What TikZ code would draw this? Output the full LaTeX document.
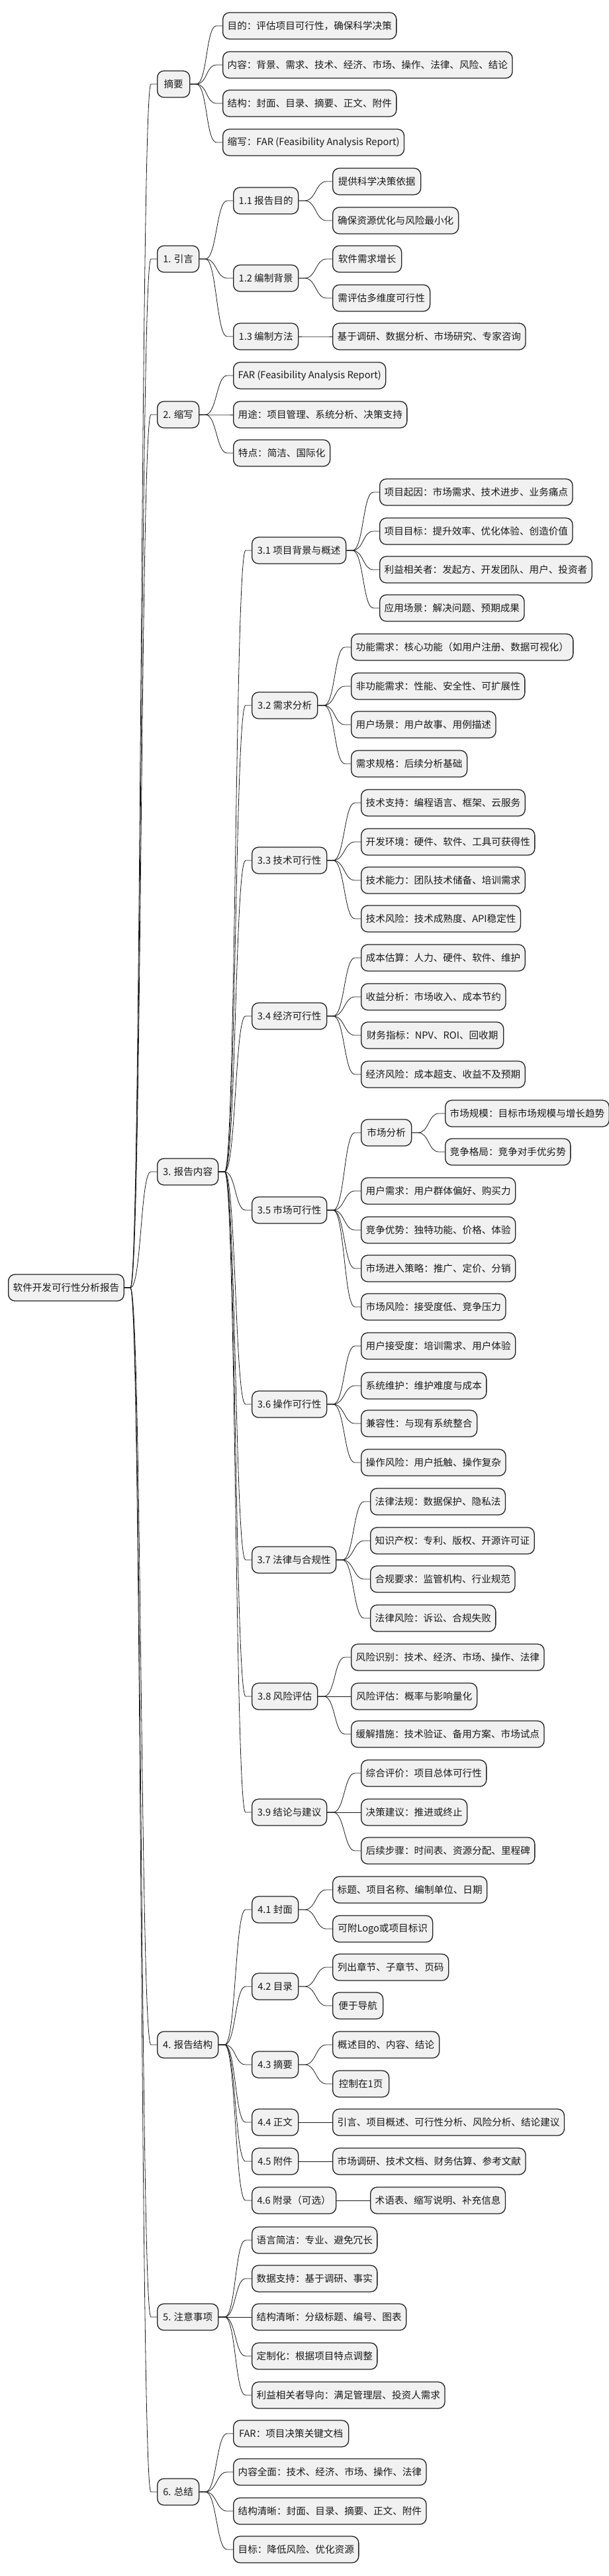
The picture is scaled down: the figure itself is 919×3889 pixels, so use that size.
\documentclass[tikz,border=0pt]{standalone}
\usepackage{fontspec}
\setmainfont{Noto Sans CJK SC}
\usetikzlibrary{backgrounds}
\definecolor{boxfill}{HTML}{F1F1F1}
\definecolor{boxline}{HTML}{222222}
\definecolor{edgeline}{HTML}{1A1A1A}
\tikzset{
  box/.style={draw=boxline, line width=1.3pt, fill=boxfill, rounded corners=10pt,
    minimum height=40pt, inner xsep=7pt, inner ysep=2pt, anchor=west,
    font=\fontsize{14.6pt}{16pt}\selectfont, text=black!90},
  edge/.style={draw=edgeline, line width=0.8pt}
}
\newcommand\nd[5]{\node[box,minimum width=#4pt] (#1) at (#2,#3) {#5};}
\newcommand\lk[2]{\draw[edge] (#1.east) -- ([xshift=9pt]#1.east) .. controls ([xshift=26pt]#1.east) and ([xshift=-25pt]#2.west) .. ([xshift=-9pt]#2.west) -- (#2.west);}
\begin{document}
\begin{tikzpicture}[x=1pt,y=-1pt]
\useasboundingbox (0,0) rectangle (919,3889);
% root
\nd{r}{12}{1944}{174}{软件开发可行性分析报告}
% level 1
\nd{a}{237}{127}{49}{摘要}
\nd{b}{237}{391}{63}{1. 引言}
\nd{c}{237}{626}{63}{2. 缩写}
\nd{d}{237}{1769}{92}{3. 报告内容}
\nd{e}{237}{3087}{92}{4. 报告结构}
\nd{f}{237}{3498}{92}{5. 注意事项}
\nd{g}{237}{3762}{63}{6. 总结}
% 摘要
\nd{a1}{336}{39}{261}{目的：评估项目可行性，确保科学决策}
\nd{a2}{336}{98}{430}{内容：背景、需求、技术、经济、市场、操作、法律、风险、结论}
\nd{a3}{336}{156}{261}{结构：封面、目录、摘要、正文、附件}
\nd{a4}{336}{215}{270}{缩写：FAR (Feasibility Analysis Report)}
% 引言
\nd{b1}{352}{303}{98}{1.1 报告目的}
\nd{b2}{352}{420}{98}{1.2 编制背景}
\nd{b3}{352}{508}{98}{1.3 编制方法}
\nd{b11}{502}{274}{133}{提供科学决策依据}
\nd{b12}{502}{333}{190}{确保资源优化与风险最小化}
\nd{b21}{502}{391}{104}{软件需求增长}
\nd{b22}{502}{450}{147}{需评估多维度可行性}
\nd{b31}{502}{508}{289}{基于调研、数据分析、市场研究、专家咨询}
% 缩写
\nd{c1}{352}{567}{227}{FAR (Feasibility Analysis Report)}
\nd{c2}{352}{626}{260}{用途：项目管理、系统分析、决策支持}
\nd{c3}{352}{684}{146}{特点：简洁、国际化}
% 报告内容
\nd{d1}{380}{831}{142}{3.1 项目背景与概述}
\nd{d2}{380}{1065}{99}{3.2 需求分析}
\nd{d3}{380}{1299}{113}{3.3 技术可行性}
\nd{d4}{380}{1534}{113}{3.4 经济可行性}
\nd{d5}{380}{1827}{113}{3.5 市场可行性}
\nd{d6}{380}{2120}{113}{3.6 操作可行性}
\nd{d7}{380}{2355}{127}{3.7 法律与合规性}
\nd{d8}{380}{2561}{99}{3.8 风险评估}
\nd{d9}{380}{2736}{113}{3.9 结论与建议}
\nd{d11}{573}{743}{288}{项目起因：市场需求、技术进步、业务痛点}
\nd{d12}{573}{802}{288}{项目目标：提升效率、优化体验、创造价值}
\nd{d13}{573}{860}{316}{利益相关者：发起方、开发团队、用户、投资者}
\nd{d14}{573}{918}{217}{应用场景：解决问题、预期成果}
\nd{d21}{530}{977}{331}{功能需求：核心功能（如用户注册、数据可视化）}
\nd{d22}{530}{1036}{260}{非功能需求：性能、安全性、可扩展性}
\nd{d23}{530}{1094}{218}{用户场景：用户故事、用例描述}
\nd{d24}{530}{1153}{175}{需求规格：后续分析基础}
\nd{d31}{545}{1212}{245}{技术支持：编程语言、框架、云服务}
\nd{d32}{545}{1271}{259}{开发环境：硬件、软件、工具可获得性}
\nd{d33}{545}{1329}{245}{技术能力：团队技术储备、培训需求}
\nd{d34}{545}{1387}{240}{技术风险：技术成熟度、API稳定性}
\nd{d41}{545}{1446}{245}{成本估算：人力、硬件、软件、维护}
\nd{d42}{545}{1505}{217}{收益分析：市场收入、成本节约}
\nd{d43}{545}{1563}{215}{财务指标：NPV、ROI、回收期}
\nd{d44}{545}{1622}{245}{经济风险：成本超支、收益不及预期}
\nd{d51}{545}{1710}{76}{市场分析}
\nd{d511}{672}{1681}{247}{市场规模：目标市场规模与增长趋势}
\nd{d512}{672}{1739}{189}{竞争格局：竞争对手优劣势}
\nd{d52}{545}{1798}{231}{用户需求：用户群体偏好、购买力}
\nd{d53}{545}{1857}{231}{竞争优势：独特功能、价格、体验}
\nd{d54}{545}{1915}{231}{市场进入策略：推广、定价、分销}
\nd{d55}{545}{1973}{217}{市场风险：接受度低、竞争压力}
\nd{d61}{545}{2032}{231}{用户接受度：培训需求、用户体验}
\nd{d62}{545}{2092}{189}{系统维护：维护难度与成本}
\nd{d63}{545}{2149}{175}{兼容性：与现有系统整合}
\nd{d64}{545}{2208}{217}{操作风险：用户抵触、操作复杂}
\nd{d71}{559}{2267}{203}{法律法规：数据保护、隐私法}
\nd{d72}{559}{2326}{245}{知识产权：专利、版权、开源许可证}
\nd{d73}{559}{2384}{217}{合规要求：监管机构、行业规范}
\nd{d74}{559}{2443}{189}{法律风险：诉讼、合规失败}
\nd{d81}{530}{2502}{289}{风险识别：技术、经济、市场、操作、法律}
\nd{d82}{530}{2561}{190}{风险评估：概率与影响量化}
\nd{d83}{530}{2618}{289}{缓解措施：技术验证、备用方案、市场试点}
\nd{d91}{545}{2677}{189}{综合评价：项目总体可行性}
\nd{d92}{545}{2736}{160}{决策建议：推进或终止}
\nd{d93}{545}{2794}{259}{后续步骤：时间表、资源分配、里程碑}
% 报告结构
\nd{e1}{380}{2883}{70}{4.1 封面}
\nd{e2}{380}{2999}{70}{4.2 目录}
\nd{e3}{380}{3117}{70}{4.3 摘要}
\nd{e4}{380}{3204}{70}{4.4 正文}
\nd{e5}{380}{3263}{70}{4.5 附件}
\nd{e6}{380}{3322}{127}{4.6 附录（可选）}
\nd{e11}{502}{2853}{232}{标题、项目名称、编制单位、日期}
\nd{e12}{502}{2912}{151}{可附Logo或项目标识}
\nd{e21}{502}{2970}{175}{列出章节、子章节、页码}
\nd{e22}{502}{3028}{76}{便于导航}
\nd{e31}{502}{3087}{161}{概述目的、内容、结论}
\nd{e32}{502}{3146}{85}{控制在1页}
\nd{e41}{502}{3204}{346}{引言、项目概述、可行性分析、风险分析、结论建议}
\nd{e51}{502}{3263}{288}{市场调研、技术文档、财务估算、参考文献}
\nd{e61}{559}{3322}{203}{术语表、缩写说明、补充信息}
% 注意事项
\nd{f1}{380}{3382}{189}{语言简洁：专业、避免冗长}
\nd{f2}{380}{3440}{189}{数据支持：基于调研、事实}
\nd{f3}{380}{3498}{232}{结构清晰：分级标题、编号、图表}
\nd{f4}{380}{3557}{189}{定制化：根据项目特点调整}
\nd{f5}{380}{3616}{288}{利益相关者导向：满足管理层、投资人需求}
% 总结
\nd{g1}{352}{3674}{174}{FAR：项目决策关键文档}
\nd{g2}{352}{3732}{288}{内容全面：技术、经济、市场、操作、法律}
\nd{g3}{352}{3791}{288}{结构清晰：封面、目录、摘要、正文、附件}
\nd{g4}{352}{3849}{189}{目标：降低风险、优化资源}
\begin{scope}[on background layer]
\fill[white] (0,0) rectangle (919,3889);
\foreach \c in {a,b,c,d,e,f,g} {\lk{r}{\c}}
\foreach \c in {a1,a2,a3,a4} {\lk{a}{\c}}
\foreach \c in {b1,b2,b3} {\lk{b}{\c}}
\lk{b1}{b11}\lk{b1}{b12}\lk{b2}{b21}\lk{b2}{b22}\lk{b3}{b31}
\foreach \c in {c1,c2,c3} {\lk{c}{\c}}
\foreach \c in {d1,d2,d3,d4,d5,d6,d7,d8,d9} {\lk{d}{\c}}
\foreach \c in {d11,d12,d13,d14} {\lk{d1}{\c}}
\foreach \c in {d21,d22,d23,d24} {\lk{d2}{\c}}
\foreach \c in {d31,d32,d33,d34} {\lk{d3}{\c}}
\foreach \c in {d41,d42,d43,d44} {\lk{d4}{\c}}
\foreach \c in {d51,d52,d53,d54,d55} {\lk{d5}{\c}}
\lk{d51}{d511}\lk{d51}{d512}
\foreach \c in {d61,d62,d63,d64} {\lk{d6}{\c}}
\foreach \c in {d71,d72,d73,d74} {\lk{d7}{\c}}
\foreach \c in {d81,d82,d83} {\lk{d8}{\c}}
\foreach \c in {d91,d92,d93} {\lk{d9}{\c}}
\foreach \c in {e1,e2,e3,e4,e5,e6} {\lk{e}{\c}}
\lk{e1}{e11}\lk{e1}{e12}\lk{e2}{e21}\lk{e2}{e22}\lk{e3}{e31}\lk{e3}{e32}
\lk{e4}{e41}\lk{e5}{e51}\lk{e6}{e61}
\foreach \c in {f1,f2,f3,f4,f5} {\lk{f}{\c}}
\foreach \c in {g1,g2,g3,g4} {\lk{g}{\c}}
\end{scope}
\end{tikzpicture}
\end{document}
